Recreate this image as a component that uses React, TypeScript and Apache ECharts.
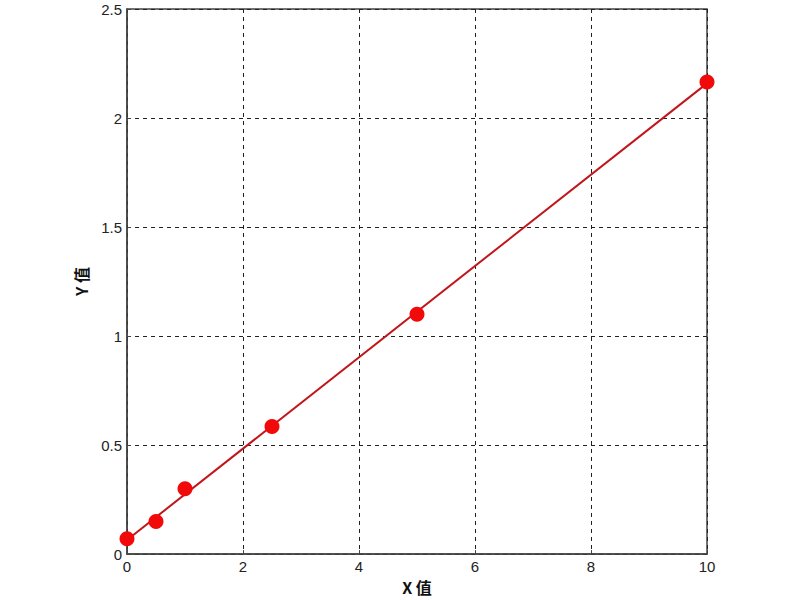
import React, { useEffect, useRef } from "react";
import * as echarts from "echarts";

const xValues = [0, 0.5, 1, 2.5, 5, 10];
const yValues = [0.07, 0.15, 0.3, 0.585, 1.1, 2.165];
const fitX = [0, 10];
const fitY = [0.065, 2.159];
const xTitle = "X 值";
const yTitle = "Y 值";

export default function App() {
  const ref = useRef<HTMLDivElement>(null);
  useEffect(() => {
    const chart = echarts.init(ref.current!, null, { renderer: "svg" });
    const font = "Liberation Sans, Arial, sans-serif";
    chart.setOption({
      animation: false,
      backgroundColor: "#ffffff",
      grid: {
        left: 127,
        right: 93,
        top: 9,
        bottom: 44,
        show: true,
        borderColor: "#444",
        borderWidth: 1.5,
        backgroundColor: "transparent",
      },
      xAxis: {
        type: "value",
        min: 0,
        max: 10,
        interval: 2,
        name: xTitle,
        nameLocation: "middle",
        nameGap: 23,
        nameTextStyle: { fontFamily: "Noto Sans CJK SC, sans-serif", fontSize: 16, fontWeight: "bold", color: "#111" },
        axisLine: { show: true, lineStyle: { color: "#444", width: 1.5 } },
        axisTick: { show: true, inside: true, length: 4, lineStyle: { color: "#444" } },
        axisLabel: { fontFamily: font, fontSize: 15, color: "#222", margin: 5 },
        splitLine: { show: true, lineStyle: { color: "#222", type: [4, 4], width: 1 } },
      },
      yAxis: {
        type: "value",
        min: 0,
        max: 2.5,
        interval: 0.5,
        name: yTitle,
        nameLocation: "middle",
        nameGap: 38,
        nameRotate: 90,
        nameTextStyle: { fontFamily: "Noto Sans CJK SC, sans-serif", fontSize: 16, fontWeight: "bold", color: "#111" },
        axisLine: { show: true, lineStyle: { color: "#444", width: 1.5 } },
        axisTick: { show: true, inside: true, length: 4, lineStyle: { color: "#444" } },
        axisLabel: { fontFamily: font, fontSize: 15, color: "#222", margin: 5 },
        splitLine: { show: true, lineStyle: { color: "#222", type: [4, 4], width: 1 } },
      },
      series: [
        {
          type: "line",
          data: fitX.map((x, i) => [x, fitY[i]]),
          showSymbol: false,
          symbol: "none",
          lineStyle: { color: "#c0161b", width: 2 },
          z: 3,
        },
        {
          type: "scatter",
          data: xValues.map((x, i) => [x, yValues[i]]),
          symbol: "circle",
          symbolSize: 15,
          itemStyle: { color: "#f20a0a", opacity: 1 },
          z: 4,
        },
      ],
    });
    return () => chart.dispose();
  }, []);
  return <div ref={ref} style={{ width: 800, height: 600, position: "absolute", left: 0, top: 0 }} />;
}
